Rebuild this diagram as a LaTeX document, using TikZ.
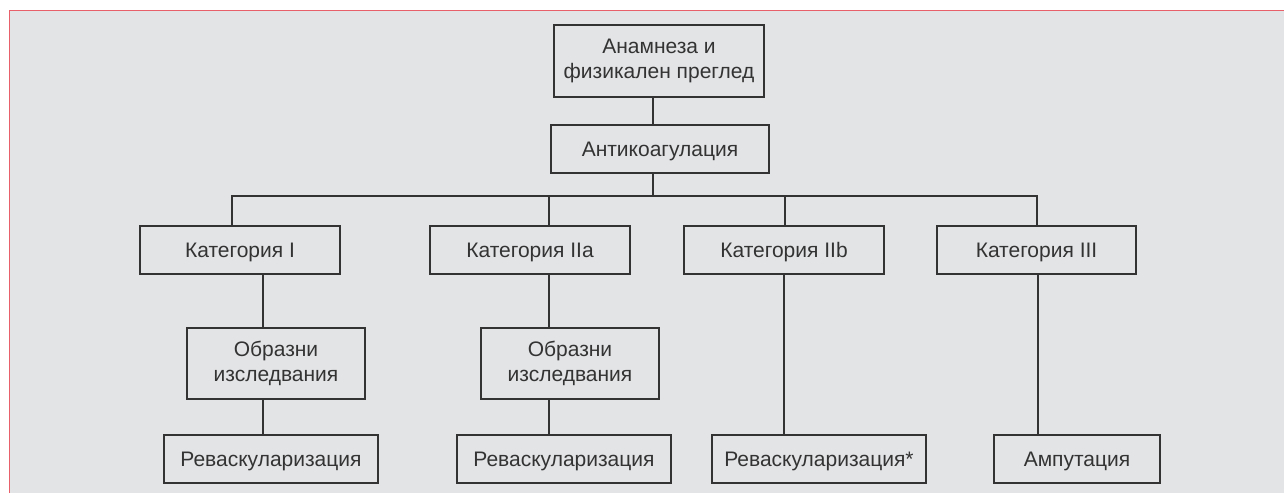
\documentclass[tikz,border=0pt]{standalone}
\usepackage{fontspec}
\setmainfont{Liberation Sans}
\definecolor{bg}{HTML}{E3E4E6}
\definecolor{frame}{HTML}{E8606A}
\definecolor{ink}{HTML}{333333}
\begin{document}
\begin{tikzpicture}[x=1pt,y=-1pt,
  box/.style={draw=ink, line width=1.3pt, fill=bg, text=ink, font=\fontsize{21}{25}\selectfont,
    align=center, inner sep=0pt, minimum height=48pt},
  one/.style={text height=15.1pt, text depth=0pt},
  tall/.style={minimum height=72pt},
  conn/.style={draw=ink, line width=1.3pt}]
\useasboundingbox (0,0) rectangle (1284,493);
\fill[bg] (9.5,10.5) rectangle (1284,493);
\draw[frame, line width=1.6pt] (9.5,493) -- (9.5,10.5) -- (1284,10.5);

\node[box, tall, minimum width=210pt] (top)  at (659,61) {Анамнеза и\\физикален преглед};
\node[box, one, minimum width=218pt] (anti) at (660,149) {Антикоагулация};

\node[box, one, minimum width=200pt] (k1) at (240,250) {Категория I};
\node[box, one, minimum width=200pt] (k2) at (530,250) {Категория IIa};
\node[box, one, minimum width=200pt] (k3) at (784,250) {Категория IIb};
\node[box, one, minimum width=199pt] (k4) at (1036.5,250) {Категория III};

\node[box, tall, minimum width=178pt, minimum height=71pt] (o1) at (276,363.5) {Образни\\изследвания};
\node[box, tall, minimum width=178pt, minimum height=71pt] (o2) at (570,363.5) {Образни\\изследвания};

\node[box, one, minimum width=214pt] (r1) at (271,459) {Реваскуларизация};
\node[box, one, minimum width=214pt] (r2) at (564,459) {Реваскуларизация};
\node[box, one, minimum width=214pt] (r3) at (819,459) {Реваскуларизация*};
\node[box, one, minimum width=166pt] (amp) at (1077,459) {Ампутация};

\coordinate (xa) at (653,196);
\coordinate (t1) at (232,196);
\coordinate (t2) at (549,196);
\coordinate (t3) at (785,196);
\coordinate (t4) at (1037,196);
\coordinate (b1) at (263,0);
\coordinate (b2) at (549,0);
\coordinate (b3) at (784,0);
\coordinate (b4) at (1038,0);

\draw[conn] (top.south -| xa) -- (anti.north -| xa);
\draw[conn] (anti.south -| xa) -- (xa);
\draw[conn] (k1.north -| t1) -- (t1) -- (t4) -- (k4.north -| t4);
\draw[conn] (t2) -- (k2.north -| t2);
\draw[conn] (t3) -- (k3.north -| t3);

\draw[conn] (k1.south -| b1) -- (o1.north -| b1);
\draw[conn] (o1.south -| b1) -- (r1.north -| b1);
\draw[conn] (k2.south -| b2) -- (o2.north -| b2);
\draw[conn] (o2.south -| b2) -- (r2.north -| b2);
\draw[conn] (k3.south -| b3) -- (r3.north -| b3);
\draw[conn] (k4.south -| b4) -- (amp.north -| b4);
\end{tikzpicture}
\end{document}
